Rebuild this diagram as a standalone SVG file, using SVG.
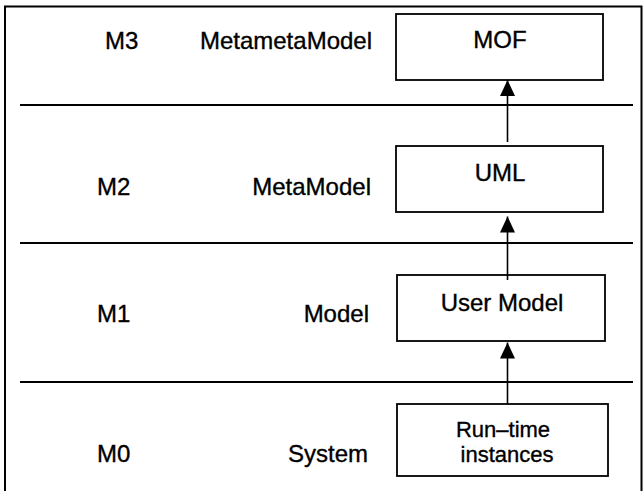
<svg xmlns="http://www.w3.org/2000/svg" width="643" height="491" viewBox="0 0 643 491">
  <style>
    .frame { fill: none; stroke: #000; stroke-width: 2; }
    .sep { stroke: #000; stroke-width: 2; }
    .box { fill: #fff; stroke: #000; stroke-width: 1.8; }
    .lbl { font-family: "Liberation Sans", Arial, sans-serif; font-size: 24px; fill: #000; stroke: #000; stroke-width: 0.35; }
    .mid { text-anchor: middle; }
    .end { text-anchor: end; }
    .small { font-size: 22px; }
    .conn { stroke: #000; stroke-width: 1.6; fill: none; marker-end: url(#head); }
  </style>
  <defs>
    <marker id="head" markerUnits="userSpaceOnUse" markerWidth="16" markerHeight="16" viewBox="0 0 16 15" refX="16" refY="7.5" orient="auto">
      <path d="M0,0 L16,7.5 L0,15 Z" fill="#000"/>
    </marker>
  </defs>

  <rect width="643" height="491" fill="#fff"/>

  <!-- outer frame (open at the bottom) -->
  <path class="frame" d="M5,491 V6.5 H641.5 V491"/>

  <!-- layer separators -->
  <g id="separators">
    <line class="sep" x1="20" y1="105" x2="633" y2="105"/>
    <line class="sep" x1="20" y1="243" x2="633" y2="243"/>
    <line class="sep" x1="20" y1="382" x2="633" y2="382"/>
  </g>

  <!-- layer names -->
  <g id="layer-labels">
    <text class="lbl" x="105" y="49">M3</text>
    <text class="lbl end" x="372" y="49">MetametaModel</text>
    <text class="lbl" x="97" y="195">M2</text>
    <text class="lbl end" x="371" y="195">MetaModel</text>
    <text class="lbl" x="97" y="322">M1</text>
    <text class="lbl end" x="369" y="322">Model</text>
    <text class="lbl" x="97" y="462">M0</text>
    <text class="lbl end" x="368" y="462">System</text>
  </g>

  <g id="mof">
    <rect class="box" x="396" y="14" width="207" height="66"/>
    <text class="lbl mid" x="500" y="48">MOF</text>
  </g>

  <g id="uml">
    <rect class="box" x="396" y="146" width="207" height="66"/>
    <text class="lbl mid" x="500" y="181">UML</text>
  </g>

  <g id="user-model">
    <rect class="box" x="397" y="275" width="208" height="66"/>
    <text class="lbl mid" x="502" y="311">User Model</text>
  </g>

  <g id="runtime">
    <rect class="box" x="397" y="404" width="211" height="72"/>
    <text class="lbl mid small" x="503" y="437">Run–time</text>
    <text class="lbl mid small" x="507" y="462">instances</text>
  </g>

  <!-- instance-of connectors -->
  <g id="connectors">
    <line class="conn" x1="507.5" y1="142" x2="507.5" y2="80"/>
    <line class="conn" x1="507.5" y1="280" x2="507.5" y2="216.5"/>
    <line class="conn" x1="507.5" y1="404" x2="507.5" y2="342.5"/>
  </g>
</svg>
